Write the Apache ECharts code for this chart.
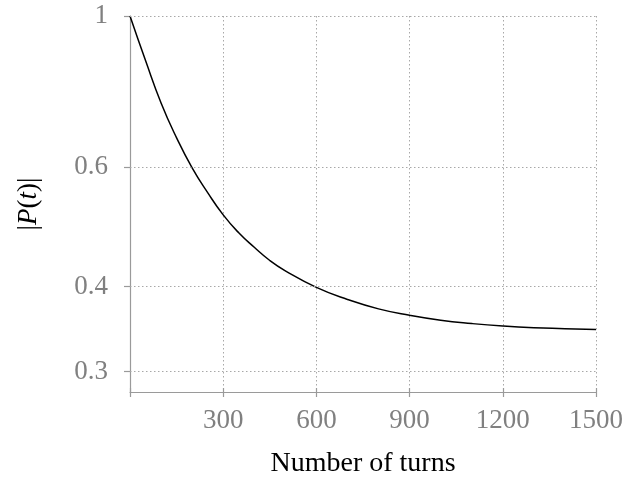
<!DOCTYPE html>
<html>
<head>
<meta charset="utf-8">
<script src="https://cdn.jsdelivr.net/npm/echarts@6/dist/echarts.min.js"></script>
<style>
html,body{margin:0;padding:0;background:#fff;}
#chart{width:635px;height:483px;}
</style>
</head>
<body>
<div id="chart"></div>
<script>
// Data
const turns = [0, 50, 100, 150, 200, 250, 300, 350, 400, 450, 500, 600, 700, 800, 900, 1000, 1100, 1200, 1300, 1400, 1500];
const pValues = [1.000, 0.860, 0.745, 0.662, 0.598, 0.550, 0.510, 0.480, 0.457, 0.437, 0.422, 0.399, 0.383, 0.371, 0.363, 0.357, 0.353, 0.350, 0.348, 0.347, 0.346];
const xTicks = [300, 600, 900, 1200, 1500];
const yTicks = [0.3, 0.4, 0.6, 1];
const xTitle = 'Number of turns';

const FONT = '"Liberation Serif", "DejaVu Serif", serif';
const GRAY = '#808080';
const AXIS = '#9a9a9a';
const GRID = '#a8a8a8';

const chart = echarts.init(document.getElementById('chart'), null, {renderer: 'canvas'});
const data = turns.map((t, i) => [t, pValues[i]]);

chart.setOption({
  animation: false,
  backgroundColor: '#fff',
  grid: {left: 130, right: 39, top: 16, bottom: 90, containLabel: false},
  xAxis: [{
    type: 'value', min: 0, max: 1500, interval: 300,
    name: xTitle, nameLocation: 'middle', nameGap: 58,
    nameTextStyle: {fontFamily: FONT, fontSize: 28, color: '#000'},
    axisLine: {show: true, lineStyle: {color: AXIS, width: 1.2}},
    axisTick: {show: true, inside: false, length: 5, lineStyle: {color: AXIS, width: 1.2}},
    axisLabel: {
      margin: 15, fontFamily: FONT, fontSize: 27, color: GRAY,
      formatter: v => (xTicks.indexOf(v) >= 0 ? String(v) : '')
    },
    splitLine: {show: true, lineStyle: {color: GRID, type: [1.5, 2.5], width: 1}}
  }, {
    type: 'value', min: 0, max: 1500, interval: 300, position: 'bottom',
    axisLine: {show: false},
    axisTick: {show: true, inside: true, length: 4, lineStyle: {color: AXIS, width: 1.2}},
    axisLabel: {show: false},
    splitLine: {show: false}
  }],
  yAxis: {
    type: 'log', logBase: 10, min: 0.28, max: 1,
    name: '{n||}{i|P}{n|(}{i|t}{n|)|}', nameLocation: 'middle', nameGap: 88, nameRotate: 90,
    nameTextStyle: {
      fontFamily: FONT, fontSize: 27, color: '#000',
      rich: {
        n: {fontFamily: FONT, fontSize: 27, color: '#000'},
        i: {fontFamily: FONT, fontSize: 27, color: '#000', fontStyle: 'italic'}
      }
    },
    axisLine: {show: true, lineStyle: {color: AXIS, width: 1.2}},
    axisTick: {show: true, length: 6, customValues: yTicks, lineStyle: {color: AXIS, width: 1.2}},
    axisLabel: {
      margin: 22, fontFamily: FONT, fontSize: 27, color: GRAY, customValues: yTicks,
      formatter: v => String(+(+v).toFixed(2))
    },
    splitLine: {show: false}
  },
  series: [{
    type: 'line', xAxisIndex: 0, data: data, smooth: true, showSymbol: false,
    lineStyle: {color: '#000', width: 1.5},
    markLine: {
      silent: true, symbol: ['none', 'none'], label: {show: false},
      lineStyle: {color: GRID, type: [1.5, 2.5], width: 1},
      data: yTicks.map(v => ({yAxis: v}))
    }
  }]
});
</script>
</body>
</html>
